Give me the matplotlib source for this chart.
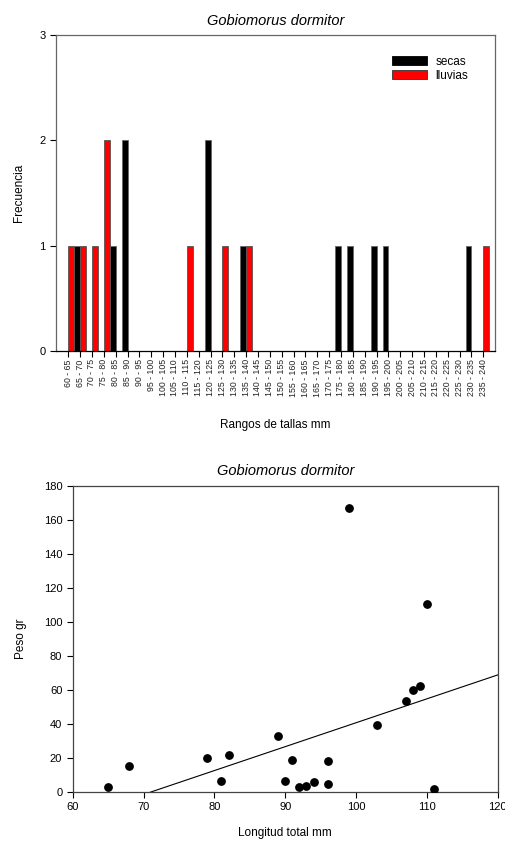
import numpy as np
import matplotlib
matplotlib.use("Agg")
import matplotlib.pyplot as plt
from matplotlib.patches import Patch

plt.rcParams['font.family'] = ['Liberation Sans', 'DejaVu Sans']

# Size-class frequencies (5 mm bins, 60-240 mm)
bin_starts = list(range(60, 240, 5))
bin_labels = [f"{s} - {s + 5}" for s in bin_starts]
secas = [0, 1, 0, 0, 1, 2, 0, 0, 0, 0, 0, 0, 2, 0, 0, 1, 0, 0,
         0, 0, 0, 0, 0, 1, 1, 0, 1, 1, 0, 0, 0, 0, 0, 0, 1, 0]
lluvias = [1, 1, 1, 2, 0, 0, 0, 0, 0, 0, 1, 0, 0, 1, 0, 1, 0, 0,
           0, 0, 0, 0, 0, 0, 0, 0, 0, 0, 0, 0, 0, 0, 0, 0, 0, 1]

# Length-weight pairs
longitud = [65, 68, 79, 81, 82, 89, 90, 91, 92, 93, 94, 96, 96, 99,
            103, 107, 108, 109, 110, 111]
peso = [3.0, 15.0, 20.0, 6.5, 21.4, 32.8, 6.3, 18.7, 3.0, 3.6, 5.5, 18.3,
        4.5, 167.0, 39.0, 53.3, 59.8, 62.5, 110.6, 1.8]

# Linear length-weight fit: peso = pendiente * longitud + intercepto
pendiente = 1.408
intercepto = -100.2

W, H = 506, 844
fig = plt.figure(figsize=(W / 100, H / 100), dpi=100)

# ---- Histogram ----
ax1 = fig.add_axes([56 / W, 1 - 351 / H, (495.3 - 56) / W, 316 / H])
x = np.arange(len(bin_labels))
bw = 0.5
ax1.bar(x - bw / 2, secas, width=bw, color='black', edgecolor='#666666',
        linewidth=0.6, label='secas')
ax1.bar(x + bw / 2, lluvias, width=bw, color='#ff0000', edgecolor='#555555',
        linewidth=0.6, label='lluvias')
ax1.set_xlim(-1.03, len(bin_labels) + 0.01)
ax1.set_ylim(0, 3)
ax1.set_yticks([0, 1, 2, 3])
ax1.set_xticks(x)
ax1.set_xticklabels(bin_labels, rotation=90, fontsize=6.3, color='#222222')
ax1.tick_params(axis='y', labelsize=8, direction='out', length=4, width=0.8)
ax1.tick_params(axis='x', direction='out', length=4, width=0.8, pad=2)
for sp in ax1.spines.values():
    sp.set_color('#666666')
    sp.set_linewidth(0.9)
ax1.spines['bottom'].set_color('black')
ax1.set_ylabel('Frecuencia', fontsize=8.5, labelpad=10)
ax1.set_xlabel('Rangos de tallas mm', fontsize=8.5, labelpad=16)
ax1.set_title('Gobiomorus dormitor', fontsize=10.5, style='italic', pad=7)
handles = [Patch(facecolor='black', edgecolor='black', linewidth=0.6),
           Patch(facecolor='#ff0000', edgecolor='#333333', linewidth=0.6)]
ax1.legend(handles, ['secas', 'lluvias'], loc='upper left', frameon=False,
           fontsize=8.5, handlelength=2.95, handleheight=0.8,
           handletextpad=0.7, labelspacing=0.2, borderpad=0,
           borderaxespad=0, bbox_to_anchor=(0.765, 0.935))

# ---- Length-weight scatter ----
ax2 = fig.add_axes([72.7 / W, 1 - 791.7 / H, 425 / W, 305.7 / H])
ax2.scatter(longitud, peso, s=28, color='black', zorder=3)
xl = np.array([60, 120])
ax2.plot(xl, pendiente * xl + intercepto, color='black', linewidth=0.8)
ax2.set_xlim(60, 120)
ax2.set_ylim(0, 180)
ax2.set_xticks(range(60, 121, 10))
ax2.set_yticks(range(0, 181, 20))
ax2.tick_params(labelsize=8, direction='out', length=4, width=0.8)
for sp in ax2.spines.values():
    sp.set_color('#444444')
    sp.set_linewidth(0.9)
ax2.set_xlabel('Longitud total mm', fontsize=8.5, labelpad=11)
ax2.set_ylabel('Peso gr', fontsize=8.5, labelpad=12)
ax2.set_title('Gobiomorus dormitor', fontsize=10.5, style='italic', pad=8)

fig.savefig('out.png', dpi=100)
